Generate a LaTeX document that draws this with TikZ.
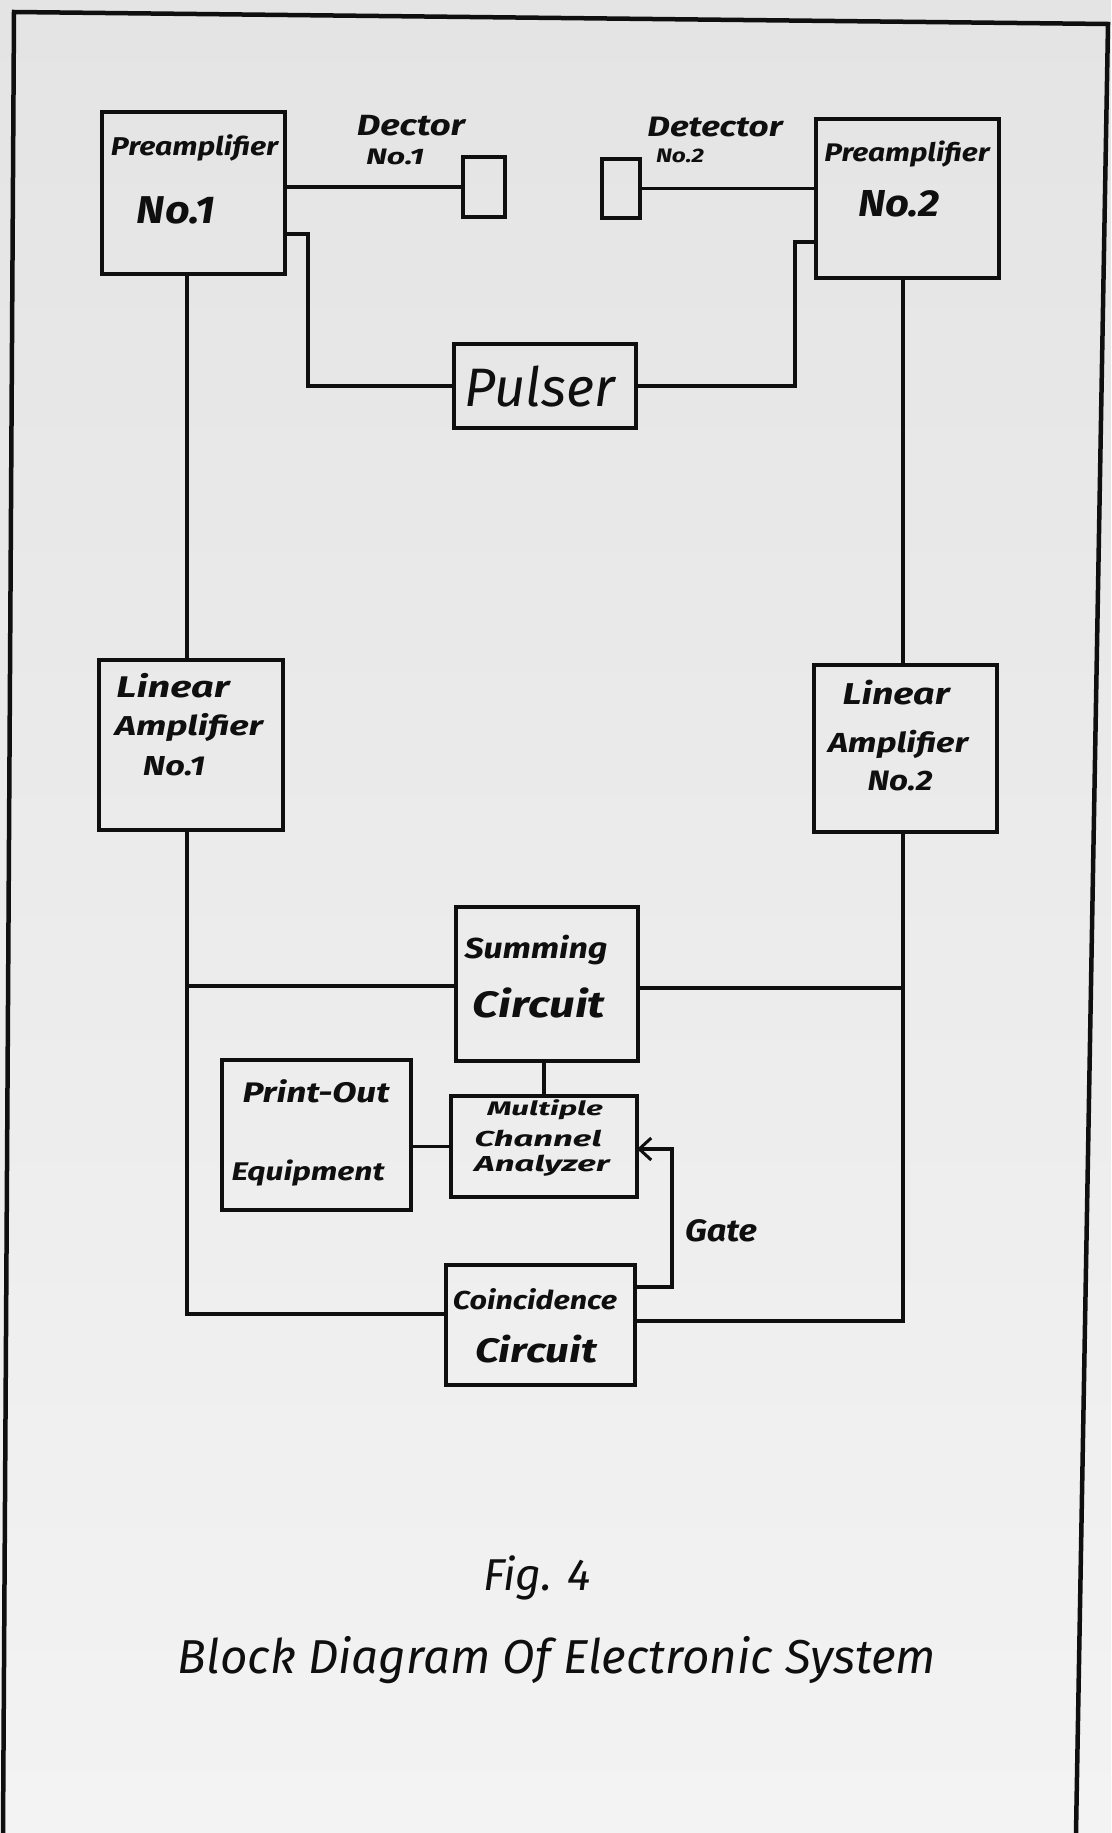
\documentclass[tikz,border=0pt]{standalone}
\usepackage{fontspec}
\setmainfont{Fira Sans}
\usetikzlibrary{arrows.meta}
\newcommand\fw[2]{\resizebox{#1pt}{!}{#2}}
\newcommand\fws[3]{\scalebox{1}[#3]{\resizebox{#1pt}{!}{#2}}}
\definecolor{paperTop}{RGB}{228,228,228}
\definecolor{paperBot}{RGB}{243,243,243}
\definecolor{ink}{RGB}{15,15,15}
\begin{document}
\begin{tikzpicture}[x=1pt,y=-1pt,
  box/.style={draw=ink, line width=4pt, inner sep=0pt, outer sep=0pt, rectangle},
  wire/.style={draw=ink, line width=3.5pt},
  lbl/.style={inner sep=0pt, text=ink, font=\bfseries\itshape},
  lblm/.style={inner sep=0pt, text=ink, font=\itshape}]
\useasboundingbox (0,0) rectangle (1111,1833);
\shade[top color=paperTop, bottom color=paperBot] (0,0) rectangle (1111,1833);
% page border
\draw[ink, line width=4.5pt, line join=miter] (3,1833) -- (14,12) -- (1108,24) -- (1076,1833);
% boxes
\node[box, minimum width=183pt, minimum height=162pt] (pre1) at (193.5,193) {};
\node[box, minimum width=42pt, minimum height=60pt] (det1) at (484,187) {};
\node[box, minimum width=38pt, minimum height=59pt] (det2) at (621,188.5) {};
\node[box, minimum width=183pt, minimum height=159pt] (pre2) at (907.5,198.5) {};
\node[box, minimum width=182pt, minimum height=84pt] (pulser) at (545,386) {};
\node[box, minimum width=184pt, minimum height=170pt] (lin1) at (191,745) {};
\node[box, minimum width=183pt, minimum height=167pt] (lin2) at (905.5,748.5) {};
\node[box, minimum width=182pt, minimum height=154pt] (sum) at (547,984) {};
\node[box, minimum width=189pt, minimum height=150pt] (print) at (316.5,1135) {};
\node[box, minimum width=186pt, minimum height=101pt] (mca) at (544,1146.5) {};
\node[box, minimum width=189pt, minimum height=120pt] (coin) at (540.5,1325) {};
% helper coordinates
\coordinate (k1) at (308,234);
\coordinate (k2) at (795,242);
\coordinate (jl) at (187,986);
\coordinate (jr) at (903,988);
\coordinate (g) at (672,1149);
% connectors
\draw[wire] (pre1.east |- det1.west) -- (det1.west);
\draw[wire] (det2.east) -- (pre2.west |- det2.east);
\draw[wire] (pre1.east |- k1) -- (k1) |- (pulser.west);
\draw[wire] (pulser.east) -| (k2) -- (pre2.west |- k2);
\draw[wire] (pre1.south -| jl) -- (lin1.north -| jl);
\draw[wire] (pre2.south -| jr) -- (lin2.north -| jr);
\draw[wire] (lin1.south -| jl) |- ([yshift=11pt]coin.west);
\draw[wire] (lin2.south -| jr) |- ([yshift=4pt]coin.east);
\draw[wire] (jl) -- (sum.west |- jl);
\draw[wire] (jr) -- (sum.east |- jr);
\draw[wire] (sum.south -| mca.north) -- (mca.north);
\draw[wire] (print.east |- mca.west) -- (mca.west);
\draw[wire, -{Straight Barb[length=12pt,width=22pt,line width=3pt]}] ([yshift=38pt]coin.east) -| (g) -- (mca.east |- g);
% labels
\node[lbl] (t1) at (194.5,148) {\fws{167}{Preamplifier}{0.85}};
\node[lbl] (t2) at (176,210) {\fws{78}{No.1}{0.9}};
\node[lbl] (t3) at (411,126) {\fws{108}{Dector}{0.8}};
\node[lbl] (t4) at (395,157) {\fws{58}{No.1}{0.7}};
\node[lbl] (t5) at (715,127) {\fws{135}{Detector}{0.8}};
\node[lbl] (t6) at (680,156) {\fws{48}{No.2}{0.8}};
\node[lbl] (t7) at (907,154) {\fws{165}{Preamplifier}{0.85}};
\node[lbl] (t8) at (899,204) {\fws{82}{No.2}{0.9}};
\node[lblm] (t9) at (540,387) {\fw{150}{Pulser}};
\node[lbl] (t10) at (173,686) {\fws{113}{Linear}{0.75}};
\node[lbl] (t11) at (189,727) {\fws{148}{Amplifier}{0.75}};
\node[lbl] (t12) at (174,766) {\fws{62}{No.1}{0.8}};
\node[lbl] (t13) at (896,693) {\fws{107}{Linear}{0.8}};
\node[lbl] (t14) at (898,744) {\fws{140}{Amplifier}{0.8}};
\node[lbl] (t15) at (900,781) {\fws{65}{No.2}{0.85}};
\node[lbl] (t16) at (536,950) {\fws{143}{Summing}{0.85}};
\node[lbl] (t17) at (539,1003) {\fws{132}{Circuit}{0.8}};
\node[lbl] (t18) at (316,1091) {\fws{147}{Print-Out}{0.8}};
\node[lbl] (t19) at (308,1173) {\fws{153}{Equipment}{0.8}};
\node[lbl] (t20) at (545,1110) {\fws{116}{Multiple}{0.62}};
\node[lbl] (t21) at (538,1138) {\fws{127}{Channel}{0.62}};
\node[lbl] (t22) at (542,1166) {\fws{135}{Analyzer}{0.62}};
\node[lbl] (t23) at (535,1299) {\fws{164}{Coincidence}{0.85}};
\node[lbl] (t24) at (536,1349) {\fws{122}{Circuit}{0.8}};
\node[lbl] (t25) at (721,1231) {\fws{72}{Gate}{0.9}};
\node[lblm] (t26) at (537,1578) {\fw{108}{Fig. 4}};
\node[lblm] (t27) at (557,1660) {\fw{758}{Block Diagram Of Electronic System}};
\end{tikzpicture}
\end{document}
